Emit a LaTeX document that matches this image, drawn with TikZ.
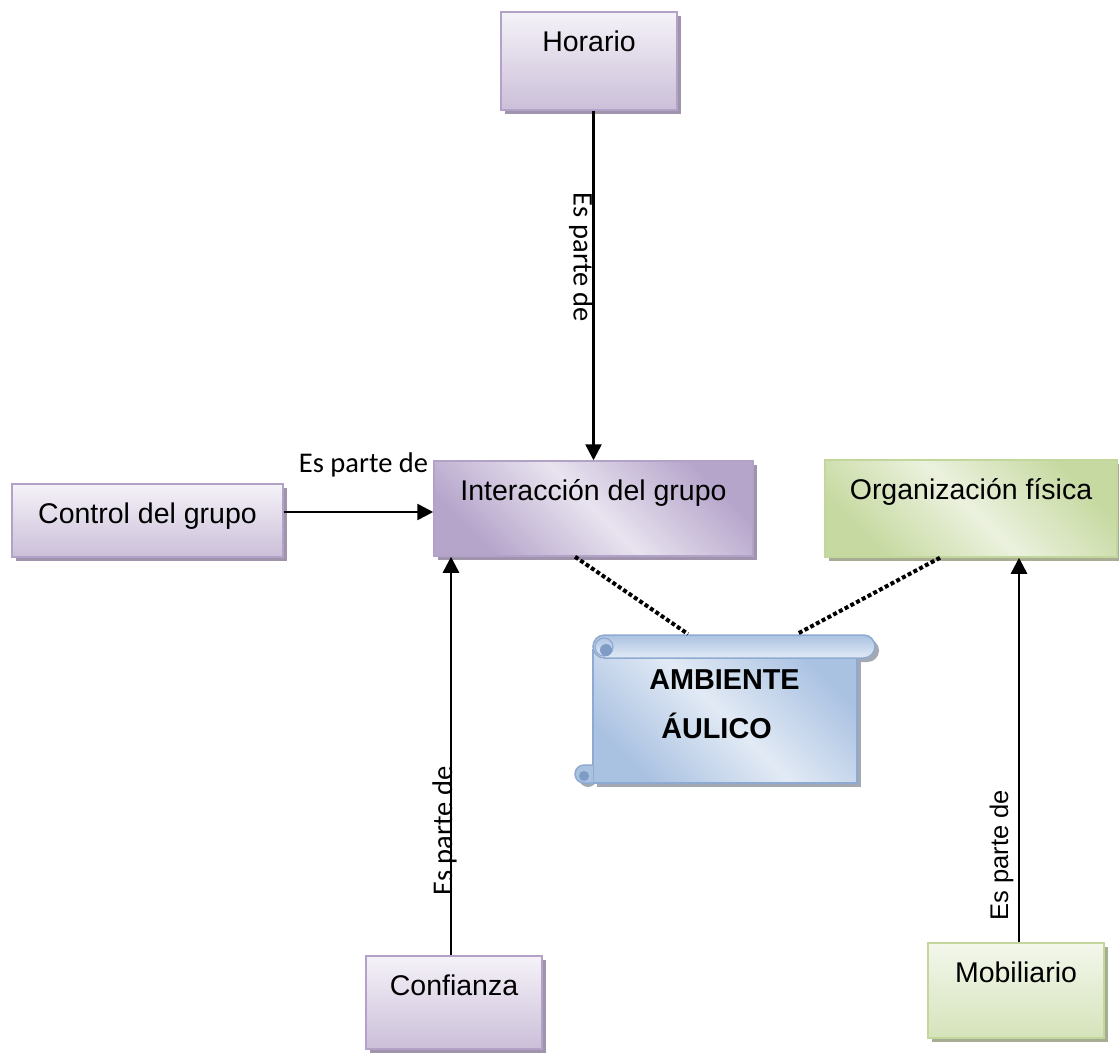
\documentclass[tikz,border=0pt]{standalone}
\usepackage{fontspec}
\setmainfont{Liberation Sans}
\newfontfamily\calib{Carlito}
\usetikzlibrary{arrows.meta,shadows,calc}
\definecolor{pborder}{HTML}{B3A2C7}
\definecolor{ptop}{HTML}{F5F2F8}
\definecolor{pbot}{HTML}{CBBFD9}
\definecolor{pedge}{HTML}{B6A5CB}
\definecolor{pmid}{HTML}{E8E3EF}
\definecolor{pshadow}{HTML}{A094AD}
\definecolor{gborder}{HTML}{C3D69B}
\definecolor{gtop}{HTML}{F3F7EC}
\definecolor{gbot}{HTML}{D5E3BA}
\definecolor{gedge}{HTML}{C6D9A0}
\definecolor{gmid}{HTML}{EBF1DE}
\definecolor{gshadow}{HTML}{A7AD92}
\definecolor{bborder}{HTML}{8EAAD0}
\definecolor{bedge}{HTML}{AAC2E2}
\definecolor{bmid}{HTML}{E2EAF5}
\definecolor{bcurl}{HTML}{7F9CC4}
\definecolor{bshadow}{HTML}{A3A9B3}
\tikzset{
  boxfont/.style={font=\fontsize{28.5}{34}\selectfont},
  basebox/.style={boxfont, inner sep=0pt, line width=1.5pt, text height=39pt},
  pbox/.style={basebox, draw=pborder, top color=ptop, bottom color=pbot,
    drop shadow={shadow xshift=4pt, shadow yshift=-4pt, fill=pshadow, opacity=1}},
  pdiag/.style={basebox, draw=pborder, left color=pedge, right color=pedge, middle color=pmid, shading angle=-45,
    drop shadow={shadow xshift=4pt, shadow yshift=-4pt, fill=pshadow, opacity=1}},
  gbox/.style={basebox, draw=gborder, top color=gtop, bottom color=gbot,
    drop shadow={shadow xshift=4pt, shadow yshift=-4pt, fill=gshadow, opacity=1}},
  gdiag/.style={basebox, draw=gborder, left color=gedge, right color=gedge, middle color=gmid, shading angle=-45,
    drop shadow={shadow xshift=4pt, shadow yshift=-4pt, fill=gshadow, opacity=1}},
  arr/.style={line width=2.6pt, -{Triangle[length=16pt,width=16pt]}},
  dotline/.style={line width=4pt, dash pattern=on 4pt off 2.5pt},
  lblc/.style={inner sep=0pt, font=\calib\fontsize{28.5}{34}\selectfont},
  lbla/.style={inner sep=0pt, font=\fontsize{25.5}{30}\selectfont},
}
\begin{document}
\begin{tikzpicture}[x=1pt,y=-1pt]
\useasboundingbox (0,0) rectangle (1119,1053);
\fill[white] (0,0) rectangle (1119,1053);

% boxes
\node[pbox, minimum width=176pt, text depth=59pt] (hor) at (589,61) {Horario};
\node[pdiag, minimum width=319pt, text depth=56pt] (int) at (593.5,508.5) {Interacción del grupo};
\node[gdiag, minimum width=292pt, text depth=58pt] (org) at (971,508.5) {Organización física};
\node[pbox, minimum width=271pt, text depth=34pt] (ctl) at (147.5,520.5) {Control del grupo};
\node[pbox, minimum width=176pt, text depth=54pt] (conf) at (454,1002.5) {Confianza};
\node[gbox, minimum width=176pt, text depth=56pt] (mob) at (1016,990.5) {Mobiliario};

% scroll
\begin{scope}[shift={(4,4)}]
  \fill[bshadow] (593,650) rectangle (857,783);
  \fill[bshadow, rounded corners=11.5pt] (593,635) rectangle (875,658);
  \fill[bshadow, rounded corners=9pt] (593,765) -- (575,765) -- (575,783) -- (593,783) -- cycle;
\end{scope}
\draw[bborder, line width=1.5pt, left color=bedge, right color=bedge, middle color=bmid, shading angle=-45]
  (593,650) rectangle (857,783);
\draw[bborder, line width=1.5pt, left color=bedge, right color=bmid, shading angle=0, rounded corners=11.5pt]
  (593,635) rectangle (875,658);
\draw[bborder, line width=1.5pt, fill=bedge, rounded corners=9pt]
  (593,765) -- (575,765) -- (575,783) -- (593,783);
\draw[bborder, line width=1.2pt] (604,647) circle[radius=9];
\fill[bcurl] (606,650) circle[radius=6];
\fill[bcurl] (584,776) circle[radius=5];
\node[inner sep=0pt, anchor=north, align=center, font=\bfseries\fontsize{28.8}{49}\selectfont]
  (amb) at (724.5,669) {AMBIENTE\\ÁULICO\hspace*{16pt}};
\coordinate (s1) at (688,634);
\coordinate (s2) at (797,634);

% arrows
\draw[arr] (hor.south -| int.north) -- (int.north);
\draw[arr] ([yshift=8.5pt]ctl.east) -- ([yshift=8.5pt]ctl.east -| int.west);
\draw[arr] ([xshift=-3pt]conf.north) -- ([xshift=-3pt]conf.north |- int.south);
\draw[arr] ([xshift=3pt]mob.north) -- ([xshift=3pt]mob.north |- org.south);

% dotted
\draw[dotline] ([xshift=-18.5pt]int.south) -- (s1);
\draw[dotline] ([xshift=-31pt]org.south) -- (s2);

% labels
\node[lblc, rotate=-90, anchor=north] (l1) at (593.5,257.5) {Es parte de};
\node[lblc, anchor=base] (l2) at (363.5,472) {Es parte de};
\node[lblc, rotate=90, anchor=base] (l3) at (452,831) {Es parte de};
\node[lbla, rotate=90, anchor=base] (l4) at (1008,855) {Es parte de};
\end{tikzpicture}
\end{document}
